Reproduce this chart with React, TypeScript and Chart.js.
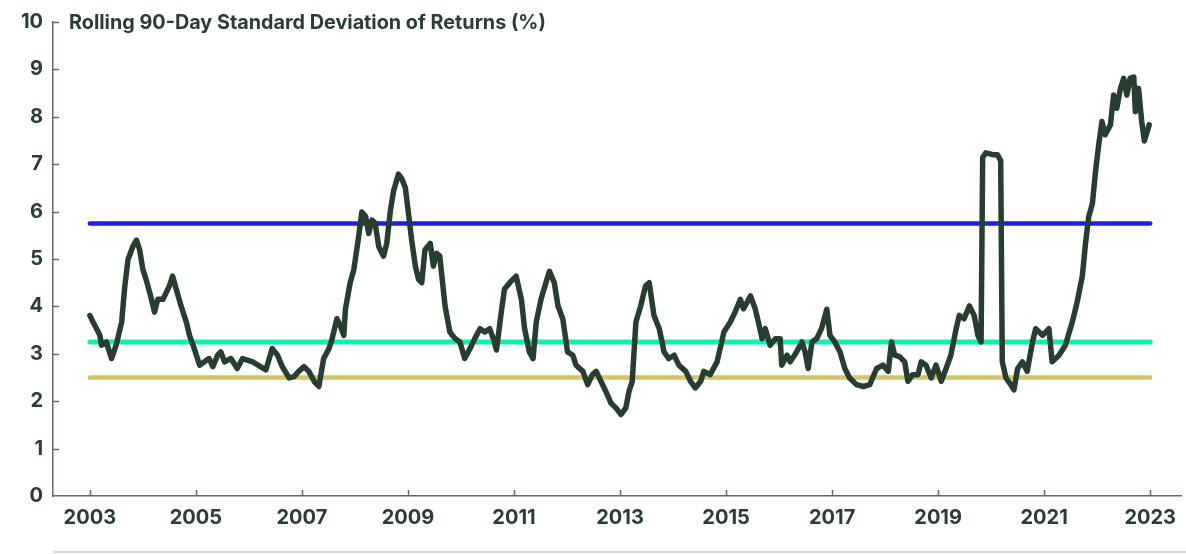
import React, { useEffect, useRef } from "react";
import { Chart, registerables } from "chart.js";

Chart.register(...registerables);

const TITLE = "Rolling 90-Day Standard Deviation of Returns (%)";
const X_TICKS = [2003, 2005, 2007, 2009, 2011, 2013, 2015, 2017, 2019, 2021, 2023];
const Y_TICKS = [0, 1, 2, 3, 4, 5, 6, 7, 8, 9, 10];

const dates = [
  2003.0, 2003.06, 2003.19, 2003.22, 2003.31, 2003.41, 2003.5, 2003.6, 2003.66, 2003.72,
  2003.81, 2003.88, 2003.94, 2004.0, 2004.06, 2004.13, 2004.22, 2004.28, 2004.38, 2004.44,
  2004.5, 2004.56, 2004.63, 2004.72, 2004.82, 2004.88, 2004.97, 2005.07, 2005.16, 2005.25,
  2005.32, 2005.41, 2005.47, 2005.54, 2005.66, 2005.78, 2005.88, 2006.07, 2006.22, 2006.32,
  2006.44, 2006.54, 2006.63, 2006.76, 2006.85, 2006.94, 2007.04, 2007.13, 2007.23, 2007.32,
  2007.41, 2007.51, 2007.57, 2007.66, 2007.72, 2007.79, 2007.82, 2007.91, 2007.98, 2008.07,
  2008.13, 2008.2, 2008.26, 2008.32, 2008.38, 2008.45, 2008.54, 2008.6, 2008.67, 2008.73,
  2008.82, 2008.88, 2008.95, 2009.01, 2009.07, 2009.14, 2009.2, 2009.26, 2009.32, 2009.42,
  2009.48, 2009.54, 2009.6, 2009.7, 2009.79, 2009.89, 2009.98, 2010.07, 2010.17, 2010.26,
  2010.36, 2010.45, 2010.54, 2010.61, 2010.67, 2010.76, 2010.82, 2010.92, 2011.04, 2011.14,
  2011.2, 2011.29, 2011.36, 2011.42, 2011.51, 2011.64, 2011.67, 2011.76, 2011.83, 2011.92,
  2012.01, 2012.11, 2012.17, 2012.3, 2012.39, 2012.48, 2012.55, 2012.64, 2012.73, 2012.83,
  2012.92, 2013.02, 2013.11, 2013.17, 2013.23, 2013.3, 2013.39, 2013.48, 2013.55, 2013.64,
  2013.74, 2013.83, 2013.92, 2014.02, 2014.11, 2014.24, 2014.33, 2014.42, 2014.52, 2014.58,
  2014.7, 2014.83, 2014.96, 2015.08, 2015.17, 2015.27, 2015.33, 2015.46, 2015.55, 2015.61,
  2015.68, 2015.74, 2015.83, 2015.93, 2016.02, 2016.05, 2016.15, 2016.21, 2016.33, 2016.43,
  2016.49, 2016.55, 2016.62, 2016.71, 2016.8, 2016.9, 2016.96, 2017.05, 2017.15, 2017.24,
  2017.33, 2017.46, 2017.59, 2017.71, 2017.84, 2017.96, 2018.06, 2018.12, 2018.18, 2018.27,
  2018.37, 2018.43, 2018.52, 2018.62, 2018.68, 2018.77, 2018.87, 2018.96, 2019.06, 2019.15,
  2019.24, 2019.34, 2019.4, 2019.49, 2019.59, 2019.68, 2019.75, 2019.81, 2019.84, 2019.9,
  2020.03, 2020.12, 2020.18, 2020.21, 2020.28, 2020.37, 2020.43, 2020.5, 2020.59, 2020.68,
  2020.78, 2020.84, 2020.97, 2021.09, 2021.15, 2021.28, 2021.4, 2021.53, 2021.62, 2021.72,
  2021.78, 2021.84, 2021.91, 2021.97, 2022.03, 2022.09, 2022.15, 2022.25, 2022.31, 2022.37,
  2022.44, 2022.5, 2022.56, 2022.62, 2022.69, 2022.72, 2022.78, 2022.84, 2022.89, 2022.98,
];

const volatility = [
  3.81, 3.67, 3.39, 3.18, 3.25, 2.9, 3.2, 3.67, 4.43, 4.99,
  5.26, 5.4, 5.19, 4.78, 4.57, 4.29, 3.88, 4.15, 4.15, 4.29,
  4.43, 4.64, 4.36, 4.01, 3.67, 3.39, 3.11, 2.76, 2.83, 2.9,
  2.73, 2.97, 3.04, 2.83, 2.9, 2.69, 2.9, 2.83, 2.73, 2.66,
  3.11, 2.97, 2.73, 2.49, 2.52, 2.63, 2.73, 2.63, 2.42, 2.31,
  2.9, 3.11, 3.32, 3.74, 3.6, 3.39, 3.94, 4.5, 4.78, 5.47,
  5.99, 5.9, 5.54, 5.82, 5.76, 5.26, 5.06, 5.33, 6.03, 6.44,
  6.79, 6.7, 6.51, 5.96, 5.4, 4.85, 4.57, 4.5, 5.19, 5.33,
  4.85, 5.12, 5.06, 4.01, 3.46, 3.32, 3.25, 2.9, 3.11, 3.32,
  3.53, 3.46, 3.53, 3.32, 3.08, 3.88, 4.36, 4.5, 4.64, 4.15,
  3.53, 3.04, 2.9, 3.67, 4.15, 4.64, 4.74, 4.5, 4.01, 3.74,
  3.04, 2.97, 2.76, 2.63, 2.35, 2.56, 2.63, 2.42, 2.21, 1.96,
  1.86, 1.72, 1.86, 2.21, 2.42, 3.67, 4.01, 4.43, 4.5, 3.81,
  3.53, 3.04, 2.9, 2.97, 2.76, 2.63, 2.42, 2.28, 2.42, 2.63,
  2.56, 2.83, 3.46, 3.67, 3.88, 4.15, 3.95, 4.22, 3.95, 3.67,
  3.32, 3.53, 3.18, 3.32, 3.32, 2.76, 2.97, 2.83, 3.04, 3.25,
  3.04, 2.69, 3.25, 3.32, 3.53, 3.94, 3.39, 3.25, 3.04, 2.69,
  2.49, 2.35, 2.31, 2.35, 2.69, 2.76, 2.63, 3.25, 2.97, 2.94,
  2.83, 2.42, 2.56, 2.56, 2.83, 2.76, 2.49, 2.76, 2.42, 2.69,
  2.97, 3.53, 3.81, 3.74, 4.01, 3.81, 3.39, 3.25, 7.14, 7.24,
  7.2, 7.2, 7.07, 2.83, 2.49, 2.35, 2.24, 2.69, 2.83, 2.63,
  3.25, 3.53, 3.39, 3.53, 2.83, 2.97, 3.18, 3.67, 4.08, 4.64,
  5.33, 5.89, 6.17, 6.86, 7.42, 7.9, 7.62, 7.83, 8.46, 8.18,
  8.6, 8.81, 8.46, 8.81, 8.84, 8.11, 8.6, 7.9, 7.49, 7.83,
];

const refStart = 2003;
const refEnd = 2023;
const refLevels = [5.75, 3.25, 2.5];
const refColors = ["#1f1fe6", "#0ff0b2", "#d3c46c"];
const refWidths = [4.5, 5, 4.5];

const TEXT = "#2a3e33";
const AXIS = "#5d6d65";
const LINE = "#263d2f";
const FONT = "Inter, Roboto, 'Noto Sans', sans-serif";

export default function App() {
  const ref = useRef<HTMLCanvasElement | null>(null);

  useEffect(() => {
    document.body.style.margin = "0";
    const canvas = ref.current;
    if (!canvas) return;

    const decor = {
      id: "decor",
      afterDraw(chart: any) {
        const { ctx, chartArea, scales } = chart;
        const xs = scales.x;
        const ys = scales.y;
        ctx.save();
        ctx.strokeStyle = AXIS;
        ctx.lineWidth = 1.5;
        X_TICKS.forEach((t) => {
          const px = Math.round(xs.getPixelForValue(t)) + 0.5;
          ctx.beginPath();
          ctx.moveTo(px, chartArea.bottom);
          ctx.lineTo(px, chartArea.bottom - 6);
          ctx.stroke();
        });
        Y_TICKS.forEach((t) => {
          if (t === 0) return;
          const py = Math.round(ys.getPixelForValue(t)) + 0.5;
          ctx.beginPath();
          ctx.moveTo(chartArea.left, py);
          ctx.lineTo(chartArea.left + 6, py);
          ctx.stroke();
        });
        ctx.strokeStyle = "#cfcfcf";
        ctx.lineWidth = 1.5;
        ctx.beginPath();
        ctx.moveTo(chartArea.left, chart.height - 2);
        ctx.lineTo(chart.width, chart.height - 2);
        ctx.stroke();
        ctx.fillStyle = TEXT;
        ctx.font = `bold 19.8px ${FONT}`;
        ctx.textBaseline = "middle";
        ctx.textAlign = "left";
        ctx.fillText(TITLE, chartArea.left + 16, ys.getPixelForValue(10) + 1);
        ctx.restore();
      },
    };

    const chart = new Chart(canvas, {
      type: "line",
      data: {
        datasets: [
          {
            label: "Volatility",
            data: dates.map((d, i) => ({ x: d, y: volatility[i] })),
            borderColor: LINE,
            borderWidth: 5.5,
            borderJoinStyle: "round",
            borderCapStyle: "round",
            pointRadius: 0,
            tension: 0,
            order: 0,
          },
          ...refLevels.map((lv, i) => ({
            label: "ref" + i,
            data: [
              { x: refStart, y: lv },
              { x: refEnd, y: lv },
            ],
            borderColor: refColors[i],
            borderWidth: refWidths[i],
            borderCapStyle: "round",
            pointRadius: 0,
            order: 1 + i,
          })),
        ],
      },
      options: {
        animation: false,
        responsive: false,
        layout: { padding: { top: 16, right: 0, left: 0, bottom: 0 } },
        plugins: { legend: { display: false }, tooltip: { enabled: false } },
        scales: {
          x: {
            type: "linear",
            min: 2002.305,
            max: 2023.585,
            afterFit: (s: any) => {
              s.height = 58;
            },
            afterBuildTicks: (s: any) => {
              s.ticks = X_TICKS.map((v) => ({ value: v }));
            },
            grid: { display: false, drawTicks: false },
            border: { display: true, color: AXIS, width: 1.5 },
            ticks: {
              autoSkip: false,
              maxRotation: 0,
              padding: 10,
              color: TEXT,
              font: { family: FONT, size: 20, weight: "bold" },
              callback: (v: any) => String(v),
            },
          },
          y: {
            min: 0,
            max: 10,
            afterFit: (s: any) => {
              s.width = 53;
            },
            afterBuildTicks: (s: any) => {
              s.ticks = Y_TICKS.map((v) => ({ value: v }));
            },
            grid: { display: false, drawTicks: false },
            border: { display: true, color: AXIS, width: 1.5 },
            ticks: {
              padding: 10,
              color: TEXT,
              font: { family: FONT, size: 20, weight: "bold" },
              callback: (v: any) => String(v),
            },
          },
        },
      },
      plugins: [decor],
    } as any);

    return () => chart.destroy();
  }, []);

  return (
    <canvas
      ref={ref}
      width={1186}
      height={554}
      style={{ display: "block", width: 1186, height: 554 }}
    />
  );
}
